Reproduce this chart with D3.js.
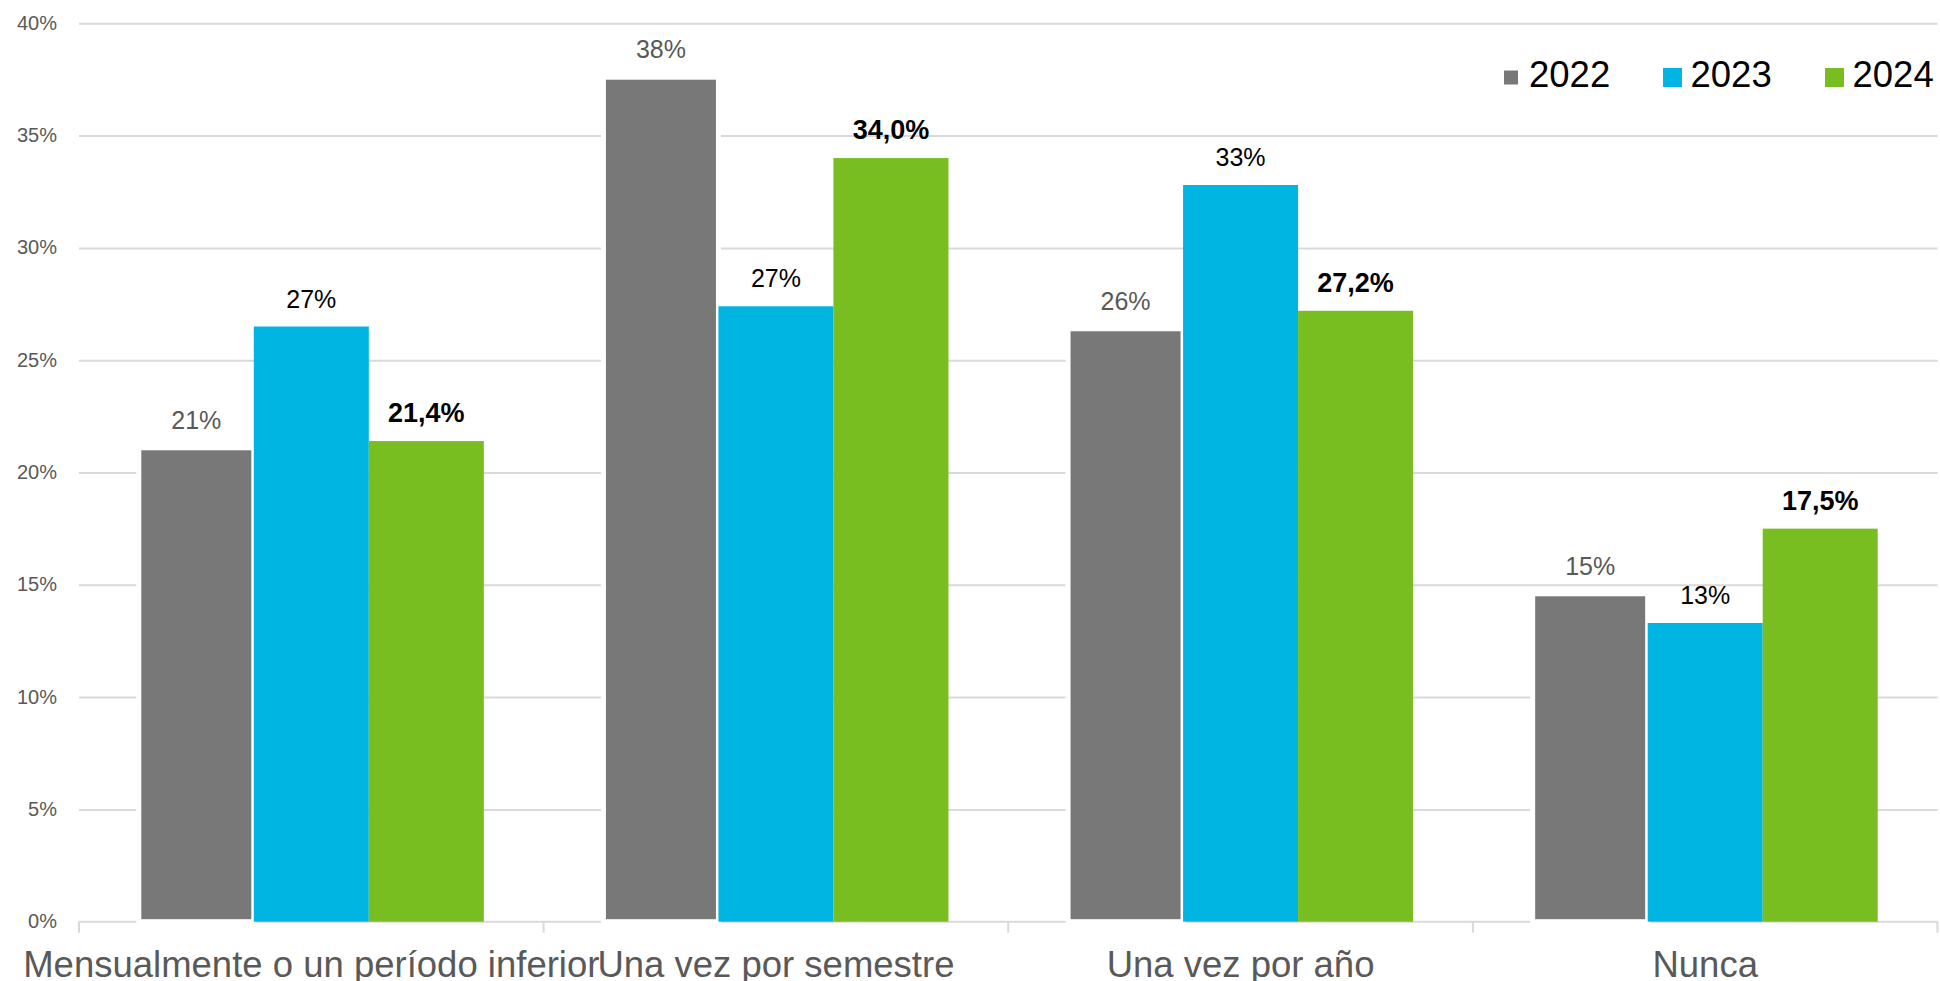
<!DOCTYPE html>
<html>
<head>
<meta charset="utf-8">
<script src="https://cdn.jsdelivr.net/npm/d3@7"></script>
<style>
  html, body { margin: 0; padding: 0; background: #fff; }
  svg { display: block; font-family: "Liberation Sans", Arial, sans-serif; }
</style>
</head>
<body>
<svg id="chart" width="1940" height="981"></svg>
<script>
// ---- data ----
const categories = ["Mensualmente o un período inferior", "Una vez por semestre", "Una vez por año", "Nunca"];
const years = ["2022", "2023", "2024"];
const values2022 = [21.1, 37.6, 26.4, 14.6];
const values2023 = [26.5, 27.4, 32.8, 13.3];
const values2024 = [21.4, 34.0, 27.2, 17.5];
const yTicks = [0, 5, 10, 15, 20, 25, 30, 35, 40];

const seriesValues = { "2022": values2022, "2023": values2023, "2024": values2024 };
const colors = { "2022": "#787878", "2023": "#00B5E2", "2024": "#78BE20" };

const svg = d3.select("#chart");
const plotLeft = 79, plotRight = 1937.5, plotTop = 23.3, plotBottom = 921.7;

const y = d3.scaleLinear().domain([0, 40]).range([plotBottom, plotTop]);
const x0 = d3.scaleBand().domain(categories).range([plotLeft, plotRight]).paddingInner(0).paddingOuter(0);
const x1 = d3.scaleBand().domain(years).range([0, x0.bandwidth()]).paddingInner(0).paddingOuter(0.52);

// gridlines
const grid = svg.append("g").attr("transform", `translate(${plotLeft},0)`)
  .call(d3.axisLeft(y).tickValues(yTicks.filter(d => d > 0)).tickSize(-(plotRight - plotLeft)).tickFormat(""));
grid.select(".domain").remove();
grid.selectAll("line").attr("stroke", "#d9d9d9").attr("stroke-width", 2);

// y labels
const yAxis = svg.append("g").attr("transform", `translate(${plotLeft},0)`)
  .call(d3.axisLeft(y).tickValues(yTicks).tickSize(0).tickPadding(22).tickFormat(d => d + "%"));
yAxis.select(".domain").remove();
yAxis.selectAll("text").attr("font-size", 20).attr("fill", "#595959")
  .attr("font-family", "'Liberation Sans', Arial, sans-serif").attr("dy", "0.3em");

// x axis line and boundary ticks
svg.append("line").attr("x1", plotLeft).attr("x2", plotRight).attr("y1", plotBottom).attr("y2", plotBottom)
  .attr("stroke", "#d9d9d9").attr("stroke-width", 2);
const bounds = categories.map(c => x0(c)).concat([x0.range()[1]]);
svg.append("g").selectAll("line").data(bounds).join("line")
  .attr("x1", d => d).attr("x2", d => d).attr("y1", plotBottom).attr("y2", plotBottom + 11)
  .attr("stroke", "#d9d9d9").attr("stroke-width", 2);

// bars
const data = [];
categories.forEach((c, i) => years.forEach(yr => data.push({ cat: c, year: yr, v: seriesValues[yr][i] })));

svg.append("g").selectAll("rect").data(data).join("rect")
  .attr("x", d => x0(d.cat) + x1(d.year))
  .attr("width", x1.bandwidth())
  .attr("y", d => y(d.v))
  .attr("height", d => y(0) - y(d.v))
  .attr("fill", d => colors[d.year])
  .attr("stroke", d => d.year === "2022" ? "#fff" : "none")
  .attr("stroke-width", 5);

// value labels
svg.append("g").selectAll("text").data(data).join("text")
  .attr("x", d => x0(d.cat) + x1(d.year) + x1.bandwidth() / 2)
  .attr("y", d => y(d.v) - 19)
  .attr("text-anchor", "middle")
  .attr("font-size", d => d.year === "2024" ? 27 : 25)
  .attr("font-weight", d => d.year === "2024" ? "bold" : "normal")
  .attr("fill", d => d.year === "2022" ? "#595959" : "#000")
  .text(d => d.year === "2024" ? d.v.toFixed(1).replace(".", ",") + "%" : Math.round(d.v) + "%");

// category labels
svg.append("g").selectAll("text").data(categories).join("text")
  .attr("x", d => x0(d) + x0.bandwidth() / 2)
  .attr("y", 976.5)
  .attr("text-anchor", "middle")
  .attr("font-size", 36.5)
  .attr("fill", "#595959")
  .text(d => d);

// legend
const legendX = [1501.5, 1663, 1825];
const lg = svg.append("g").selectAll("g").data(years).join("g")
  .attr("transform", (d, i) => `translate(${legendX[i]},68)`);
lg.append("rect").attr("width", 19).attr("height", 19)
  .attr("fill", d => colors[d])
  .attr("stroke", d => d === "2022" ? "#fff" : "none").attr("stroke-width", 5);
lg.append("text").attr("x", 27.5).attr("y", 19.3)
  .attr("font-size", 36.5).attr("fill", "#000").text(d => d);
</script>
</body>
</html>
